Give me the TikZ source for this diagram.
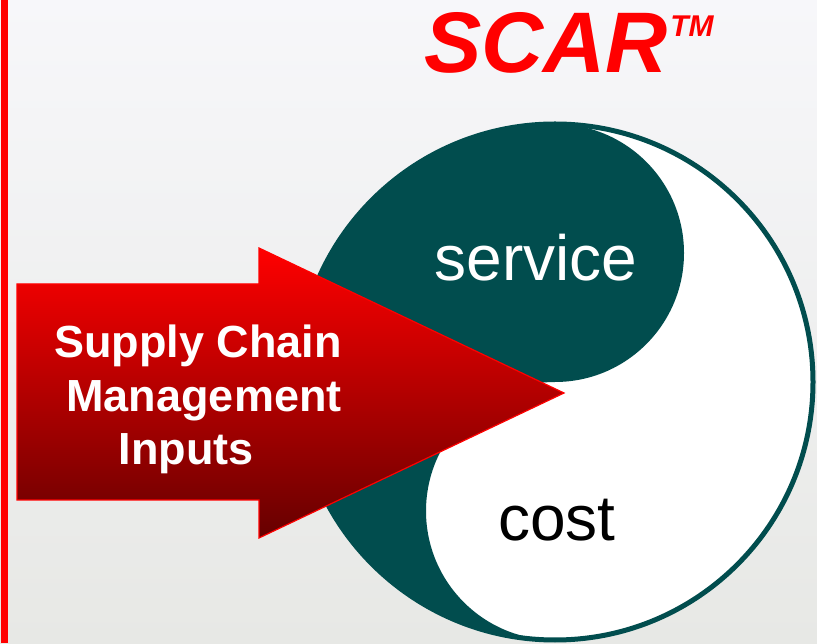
\documentclass[tikz,border=0pt]{standalone}
\usepackage{fontspec}
\setmainfont{Liberation Sans}
\usetikzlibrary{positioning,calc}

\definecolor{scarred}{RGB}{255,0,0}
\definecolor{arrowdark}{RGB}{102,0,0}
\definecolor{yinteal}{RGB}{1,77,78}
\definecolor{bgtop}{RGB}{247,247,250}
\definecolor{bgbottom}{RGB}{231,232,229}

\begin{document}
\begin{tikzpicture}
    [
      x=1pt, y=1pt,
      big text/.style={font=\fontsize{64}{76}\selectfont, inner sep=0pt, anchor=base},
      arrow text/.style={font=\bfseries\fontsize{45}{54}\selectfont, text=white, inner sep=0pt, anchor=base},
      red title/.style={text=scarred, inner sep=0pt, anchor=base west}
    ]
    \shade [top color=bgtop, bottom color=bgbottom] (0,0) rectangle (817,643);
    \useasboundingbox (0,0) rectangle (817,643);
    \draw [scarred, line width=7pt] (4.5,0) -- (4.5,643);

    % yin and yang
    \coordinate (c) at (555,261);
    \fill [white] (c) circle [radius=258];
    \fill [yinteal] ($(c)+(0,258)$) arc [start angle=90, end angle=270, radius=258]
      arc [start angle=270, end angle=90, radius=129]
      arc [start angle=-90, end angle=90, radius=129] -- cycle;
    \draw [yinteal, line width=5pt] (c) circle [radius=258];
    \node (service) [big text, text=white] at (536,362) {service};
    \node (cost) [big text] at (557,102) {cost};

    % the arrow
    \shadedraw [top color=scarred, bottom color=arrowdark, draw=scarred, line width=1.2pt]
      (17,359) -- (259,359) -- (259,395) -- (564,250) -- (259,105) -- (259,143) -- (17,143) -- cycle;
    \node (line1) [arrow text] at (198,285) {Supply Chain};
    \node (line2) [arrow text] at (204,231) {Management};
    \node (line3) [arrow text] at (186,178) {Inputs};

    \node (title) [red title, font=\bfseries\itshape\fontsize{86}{100}\selectfont] at (424,570) {SCAR};
    \node (tm) [red title, font=\bfseries\itshape\fontsize{30}{36}\selectfont] at ([xshift=2pt, yshift=36pt]title.base east) {TM};
\end{tikzpicture}
\end{document}
